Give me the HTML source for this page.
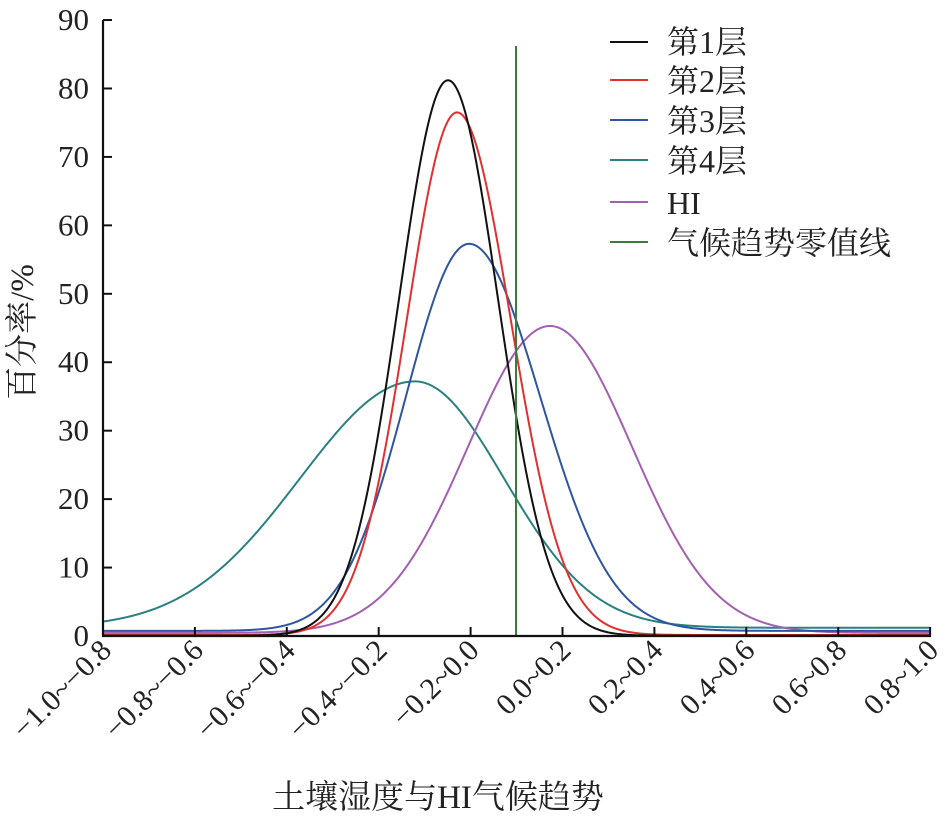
<!DOCTYPE html>
<html><head><meta charset="utf-8"><style>
html,body{margin:0;padding:0;background:#fff;}
svg{display:block;font-family:"Liberation Serif","Noto Serif CJK SC",serif;}
</style></head><body>
<svg id="s" width="951" height="818" viewBox="0 0 951 818" xmlns="http://www.w3.org/2000/svg">
<g id="curves" fill="none" stroke-width="2"></g>
<line x1="516" y1="46" x2="516" y2="636" stroke="#3a7d3a" stroke-width="2"/>
<g stroke="#111" stroke-width="2.2" fill="none">
<line x1="103" y1="20" x2="103" y2="637"/>
<line x1="102" y1="636" x2="931" y2="636"/>
</g>
<g id="ticks" stroke="#111" stroke-width="2"></g>
<g font-size="31" fill="#222" text-anchor="end" id="ylab"></g>
<g font-size="30" fill="#222" text-anchor="end" id="xlab"></g>
<text x="0" y="0" font-size="33" fill="#222" text-anchor="middle" transform="translate(33,332) rotate(-90)">百分率/%</text>
<text x="438" y="808" font-size="33" fill="#222" text-anchor="middle">土壤湿度与HI气候趋势</text>
<g font-size="32" fill="#222">
<line x1="610" y1="42" x2="648" y2="42" stroke="#111" stroke-width="2"/><text x="667" y="53">第1层</text>
<line x1="610" y1="80" x2="648" y2="80" stroke="#e03030" stroke-width="2"/><text x="667" y="92">第2层</text>
<line x1="610" y1="120" x2="648" y2="120" stroke="#2f55a0" stroke-width="2"/><text x="667" y="132">第3层</text>
<line x1="610" y1="160" x2="648" y2="160" stroke="#2a8080" stroke-width="2"/><text x="667" y="172">第4层</text>
<line x1="610" y1="202" x2="648" y2="202" stroke="#a35fb0" stroke-width="2"/><text x="667" y="214">HI</text>
<line x1="610" y1="242" x2="648" y2="242" stroke="#3a7d3a" stroke-width="2"/><text x="667" y="254">气候趋势零值线</text>
</g>
</svg>
<script>
var NS="http://www.w3.org/2000/svg";
function Y(v){return 636-v*6.844;}
var c=[
 ["#2a8080",415,37.2,115,89,1.2],
 ["#a35fb0",550,45.3,82,82,0.45],
 ["#2f55a0",469,57.3,63,71,0.75],
 ["#e03030",457,76.5,50,53.5,0.15],
 ["#111",448,81.2,49,50,0.05]];
var g=document.getElementById("curves");
c.forEach(function(p){var d="";for(var x=104;x<=930;x+=1){var s=x<p[1]?p[3]:p[4];var v=p[5]+(p[2]-p[5])*Math.exp(-(x-p[1])*(x-p[1])/(2*s*s));d+=(x==104?"M":"L")+x+","+Y(v).toFixed(2);}
var e=document.createElementNS(NS,"path");e.setAttribute("d",d);e.setAttribute("stroke",p[0]);g.appendChild(e);});
var t=document.getElementById("ticks"),yl=document.getElementById("ylab"),xl=document.getElementById("xlab");
for(var i=0;i<=9;i++){var y=Y(i*10);var l=document.createElementNS(NS,"line");l.setAttribute("x1",103);l.setAttribute("x2",112);l.setAttribute("y1",y);l.setAttribute("y2",y);t.appendChild(l);
var tx=document.createElementNS(NS,"text");tx.setAttribute("x",89);tx.setAttribute("y",y+10);tx.textContent=(i*10)+"";yl.appendChild(tx);}
var labs=["−1.0~−0.8","−0.8~−0.6","−0.6~−0.4","−0.4~−0.2","−0.2~0.0","0.0~0.2","0.2~0.4","0.4~0.6","0.6~0.8","0.8~1.0"];
for(var i=0;i<10;i++){var x=103+91.9*i;var l=document.createElementNS(NS,"line");l.setAttribute("x1",x);l.setAttribute("x2",x);l.setAttribute("y1",636);l.setAttribute("y2",627);t.appendChild(l);
var tx=document.createElementNS(NS,"text");tx.setAttribute("transform","translate("+(x+10)+",652) rotate(-45)");tx.textContent=labs[i];xl.appendChild(tx);}
</script>
</body></html>
